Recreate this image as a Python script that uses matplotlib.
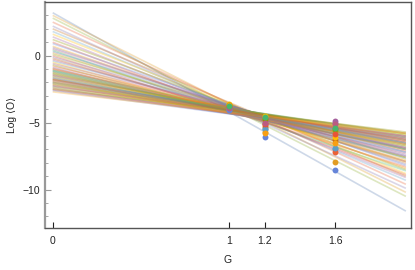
import matplotlib
matplotlib.use("Agg")
import matplotlib.pyplot as plt
import numpy as np

plt.rcParams['font.family'] = ['Liberation Sans', 'DejaVu Sans']

# Mathematica default palette
palette = ['#5E81B5', '#E19C24', '#8FB032', '#EB6235', '#8778B3',
           '#C56E1A', '#5D9EC7', '#FFBF00', '#A5609D', '#929600',
           '#E95536', '#6685D9', '#F89F13', '#BC5B80', '#47B66D']

# fitted lines: value at G=0 and at G=2
line_x = [0.0, 2.0]
line_start = [3.2, 3.0, 2.8, 2.5, 2.2, 2.0, 1.8, 1.6, 1.4, 1.2, 1.0, 0.9, 0.7,
              0.5, 0.4, 0.3, 0.2, 0.1, 0.0, -0.1, -0.2, -0.4, -0.5, -0.6, -0.7,
              -0.8, -0.9, -1.0, -1.05, -1.1, -1.2, -1.25, -1.3, -1.4, -1.45,
              -1.5, -1.55, -1.6, -1.7, -1.75, -1.8, -1.85, -1.9, -1.95, -2.0,
              -2.05, -2.1, -2.15, -2.2, -2.25, -2.3, -2.35, -2.4, -2.45, -2.5,
              -2.55, -2.6, -2.7, -0.3, -1.15, -1.65, -2.0, -1.35, -0.95, 0.6,
              -1.8]
line_end = [-11.6, -10.2, -10.5, -9.6, -9.9, -9.0, -9.3, -8.8, -9.1, -8.5,
            -8.9, -8.2, -8.4, -7.9, -8.6, -7.7, -8.0, -7.6, -8.3, -7.4, -7.9,
            -7.2, -7.8, -7.0, -7.6, -6.9, -7.5, -6.8, -7.3, -6.6, -7.2, -6.5,
            -7.0, -6.4, -6.9, -6.3, -6.8, -6.2, -6.9, -6.1, -6.6, -6.0, -6.7,
            -6.2, -5.9, -6.5, -6.1, -5.8, -6.4, -6.0, -5.8, -6.3, -5.9, -6.2,
            -5.7, -6.0, -6.1, -5.8, -7.5, -7.0, -6.5, -6.6, -6.7, -7.1, -8.1,
            -6.3]

# measured points at G = 1, 1.2, 1.6
G = [1.0, 1.2, 1.6]
pts = [
    [-3.9, -5.5, -7.0],
    [-3.8, -5.7, -7.95],
    [-3.7, -4.7, -5.6],
    [-3.85, -5.2, -7.2],
    [-4.0, -5.0, -5.0],
    [-3.75, -5.3, -6.3],
    [-3.9, -5.5, -6.9],
    [-3.6, -4.5, -6.05],
    [-3.85, -4.8, -4.9],
    [-3.7, -4.75, -5.5],
    [-3.8, -5.1, -5.85],
    [-4.05, -6.1, -8.5],
    [-3.65, -5.75, -6.5],
    [-3.9, -5.0, -5.1],
    [-3.75, -4.6, -5.4],
]

fig = plt.figure(figsize=(4.15, 2.70), dpi=100)
ax = fig.add_axes([45 / 415, 1 - 228 / 270, 366 / 415, 226 / 270])

for i, (a, b) in enumerate(zip(line_start, line_end)):
    ax.plot(line_x, [a, b], color=palette[i % len(palette)], lw=1.2,
            alpha=0.3, solid_capstyle='butt')

for i, ys in enumerate(pts):
    ax.scatter(G, ys, s=18, color=palette[i % len(palette)], zorder=3,
               linewidths=0)

ax.set_xlim(-0.0436, 2.029)
ax.set_ylim(-12.86, 4.0)
ax.set_xticks([0, 1, 1.2, 1.6])
ax.set_xticklabels(['0', '1', '1.2', '1.6'])
ax.set_yticks([0, -5, -10])
ax.set_yticks(np.arange(-12, 4), minor=True)

ax.tick_params(direction='in', length=4, width=0.8, labelsize=7.5,
               colors='#222222', top=False, right=False)
ax.tick_params(which='minor', direction='in', length=2, width=0.6,
               color='#999999')
ax.tick_params(axis='y', which='major', color='#999999')
ax.tick_params(axis='x', which='minor', bottom=False)
ax.tick_params(axis='x', pad=6)

for side in ['top', 'right', 'bottom']:
    ax.spines[side].set_color('#555555')
    ax.spines[side].set_linewidth(1.0)
ax.spines['left'].set_color('#999999')
ax.spines['left'].set_linewidth(1.6)

ax.set_xlabel('G', fontsize=7.5, color='#222222', labelpad=6)
ax.set_ylabel('Log \u27e8O\u27e9', fontsize=7.5, color='#222222', labelpad=4)

fig.savefig('out.png', dpi=100)
